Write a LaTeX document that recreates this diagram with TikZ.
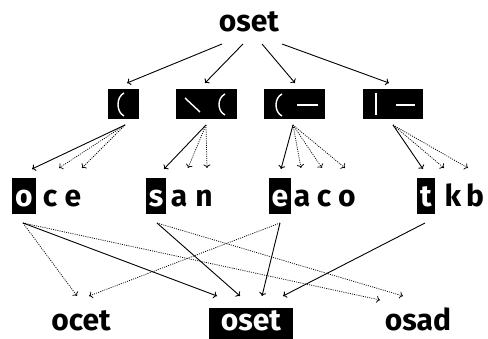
\documentclass[tikz,border=0pt]{standalone}
\usepackage{fontspec}
\setmainfont{Fira Sans}
\usetikzlibrary{arrows.meta}
\begin{document}
\begin{tikzpicture}[x=1pt,y=-1pt,
  lbl/.style={font=\fontsize{30}{32}\selectfont\bfseries, inner sep=0pt, anchor=base},
  blk/.style={lbl, fill=black, text=white, inner xsep=3pt, text height=22pt, text depth=0pt, minimum height=36pt},
  icon/.style={fill=black, minimum height=30pt, inner sep=0pt},
  stroke/.style={draw=white, line width=1.4pt},
  arr/.style={-{To[length=3.5pt,width=7pt]}, line width=0.9pt},
  dotarr/.style={arr, line width=0.75pt, dash pattern=on 1pt off 1.2pt}]
\useasboundingbox (0,0) rectangle (488,339);

% top word
\node[lbl] (top) at (249,32) {oset};

% icon boxes
\node[icon, minimum width=31pt] (b1) at (123.5,104) {};
\node[icon, minimum width=61pt] (b2) at (206.5,104) {};
\node[icon, minimum width=61pt] (b3) at (294.5,104) {};
\node[icon, minimum width=60pt] (b4) at (393,104) {};
\draw[stroke] (124,93) .. controls (116,97) and (116,112) .. (124,116);
\draw[stroke] (185,98) -- (200,112);
\draw[stroke] (225,94) .. controls (217,98) and (217,111) .. (225,115);
\draw[stroke] (282,94) .. controls (274,98) and (274,112) .. (282,116);
\draw[stroke] (297,105) -- (318,105);
\draw[stroke] (376,93) -- (376,115);
\draw[stroke] (396,105) -- (415,105);

% letter row
\node[blk] (o1) at (24,207) {o};
\node[lbl] (c1) at (50,207) {c};
\node[lbl] (e1) at (73,207) {e};
\node[blk] (s2) at (156,207) {s};
\node[lbl] (a2) at (179,207) {a};
\node[lbl] (n2) at (204,207) {n};
\node[blk] (e3) at (280,207) {e};
\node[lbl] (a3) at (302,207) {a};
\node[lbl] (c3) at (324,207) {c};
\node[lbl] (o3) at (347,207) {o};
\node[blk] (t4) at (426,207) {t};
\node[lbl] (k4) at (453,207) {k};
\node[lbl] (bb4) at (475,207) {b};

% bottom row
\node[lbl] (w1) at (81,331) {ocet};
\node[lbl, fill=black, text=white, text height=14pt, text depth=0pt, minimum height=32pt, minimum width=84pt] (w2) at (251,331) {oset};
\node[lbl] (w3) at (418,331) {osad};

% connector ends
\coordinate (tA) at (222,44); \coordinate (tB) at (243,44);
\coordinate (tC) at (262,44); \coordinate (tD) at (282,44);
\coordinate (b1in) at (127,83); \coordinate (b2in) at (205,83);
\coordinate (b3in) at (295,83); \coordinate (b4in) at (389,83);

\coordinate (b1out) at (125,125); \coordinate (b2out) at (206,125);
\coordinate (b3out) at (293,125); \coordinate (b4out) at (393,125);

\coordinate (o1in) at (32,169); \coordinate (c1in) at (59,168); \coordinate (e1in) at (82,168);
\coordinate (s2in) at (164,169); \coordinate (a2in) at (188,168); \coordinate (n2in) at (207,168);
\coordinate (e3in) at (281,169); \coordinate (a3in) at (301,168); \coordinate (c3in) at (322,168); \coordinate (o3in) at (345,168);
\coordinate (t4in) at (423,169); \coordinate (k4in) at (444,168); \coordinate (bb4in) at (468,168);

\coordinate (o1out) at (23,223); \coordinate (s2out) at (157,223);
\coordinate (e3out) at (280,223); \coordinate (t4out) at (425,223);

\coordinate (w1inA) at (77,296); \coordinate (w1inB) at (89,296);
\coordinate (w2inA) at (217,296); \coordinate (w2inB) at (240,296);
\coordinate (w2inC) at (262,296); \coordinate (w2inD) at (283,296);
\coordinate (w3inA) at (380,300); \coordinate (w3inB) at (403,296);

% top arrows
\draw[arr] (tA) -- (b1in);
\draw[arr] (tB) -- (b2in);
\draw[arr] (tC) -- (b3in);
\draw[arr] (tD) -- (b4in);

% icon to letters
\draw[arr] (b1out) -- (o1in);
\draw[dotarr] (b1out) -- (c1in);
\draw[dotarr] (b1out) -- (e1in);
\draw[arr] (b2out) -- (s2in);
\draw[dotarr] (b2out) -- (a2in);
\draw[dotarr] (b2out) -- (n2in);
\draw[arr] (b3out) -- (e3in);
\draw[dotarr] (b3out) -- (a3in);
\draw[dotarr] (b3out) -- (c3in);
\draw[dotarr] (b3out) -- (o3in);
\draw[arr] (b4out) -- (t4in);
\draw[dotarr] (b4out) -- (k4in);
\draw[dotarr] (b4out) -- (bb4in);

% letters to words
\draw[arr] (o1out) -- (w2inA);
\draw[dotarr] (o1out) -- (w1inA);
\draw[dotarr] (o1out) -- (w3inA);
\draw[arr] (s2out) -- (w2inB);
\draw[dotarr] (s2out) -- (w3inB);
\draw[arr] (e3out) -- (w2inC);
\draw[dotarr] (e3out) -- (w1inB);
\draw[arr] (t4out) -- (w2inD);
\end{tikzpicture}
\end{document}
